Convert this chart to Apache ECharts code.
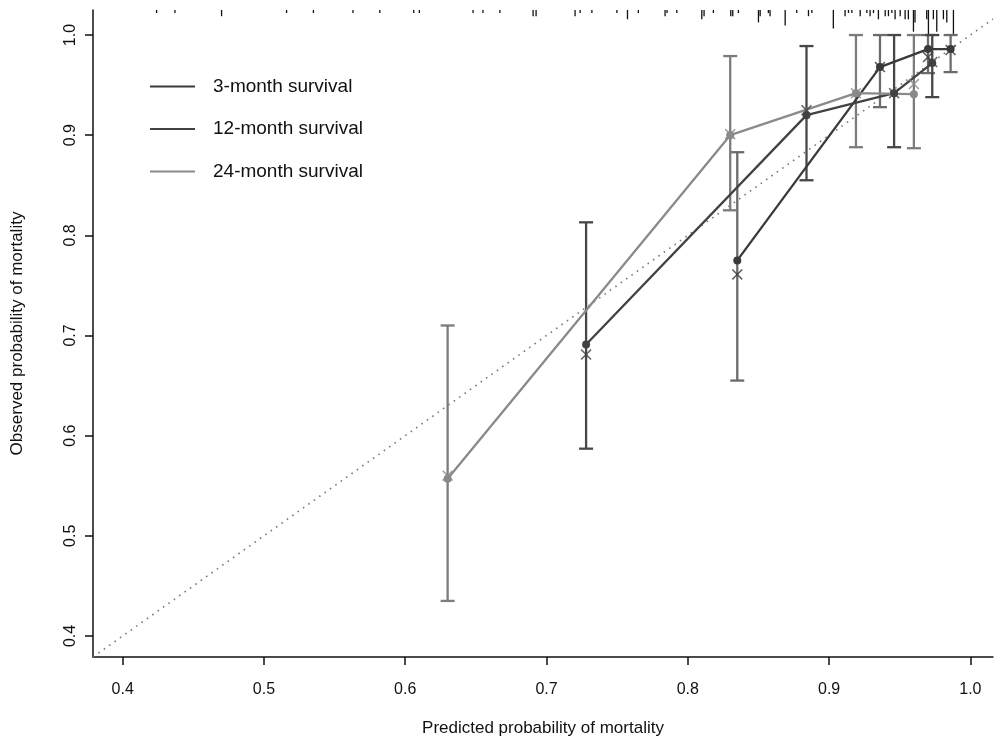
<!DOCTYPE html>
<html><head><meta charset="utf-8">
<script src="https://cdn.jsdelivr.net/npm/echarts@6/dist/echarts.min.js"></script>
<style>html,body{margin:0;padding:0;background:#fff}#c{width:995px;height:742px}</style>
</head><body><div id="c"></div>
<script>
// ---------- data ----------
const xTicks = [0.4, 0.5, 0.6, 0.7, 0.8, 0.9, 1.0];
const yTicks = [0.4, 0.5, 0.6, 0.7, 0.8, 0.9, 1.0];
const seriesNames = ['3-month survival', '12-month survival', '24-month survival'];

// 3-month survival
const pred3 = [0.835, 0.936, 0.970, 0.986];
const obs3  = [0.775, 0.968, 0.986, 0.986];
const corr3 = [0.761, 0.968, 0.978, 0.985];
const lo3   = [0.655, 0.928, 0.962, 0.963];
const hi3   = [0.883, 1.000, 1.000, 1.000];

// 12-month survival
const pred12 = [0.728, 0.884, 0.946, 0.973];
const obs12  = [0.691, 0.920, 0.942, 0.972];
const corr12 = [0.681, 0.925, 0.942, 0.973];
const lo12   = [0.587, 0.855, 0.888, 0.938];
const hi12   = [0.813, 0.989, 1.000, 1.000];

// 24-month survival
const pred24 = [0.630, 0.830, 0.919, 0.960];
const obs24  = [0.557, 0.900, 0.942, 0.941];
const corr24 = [0.560, 0.901, 0.942, 0.951];
const lo24   = [0.435, 0.825, 0.888, 0.887];
const hi24   = [0.710, 0.979, 1.000, 1.000];

// distribution of predicted values (spike histogram at top)
const rugX = [0.424,0.437,0.470,0.516,0.535,0.563,0.582,0.606,0.610,0.648,0.655,0.667,0.6905,0.6926,
  0.7202,0.7238,0.7321,0.7498,0.7573,0.7650,0.7839,0.7853,0.7922,0.8099,0.8115,0.8181,0.8304,0.8318,0.8358,
  0.8500,0.8512,0.8570,0.8582,0.8689,0.8771,0.8854,0.8878,0.9030,0.9113,0.9137,0.9161,0.9220,0.9267,0.9290,
  0.9314,0.9349,0.9397,0.9420,0.9444,0.9467,0.9503,0.9538,0.9561,0.9597,0.9608,0.9691,0.9703,0.9738,0.9762,
  0.9809,0.9833,0.9880];
const rugN = [1,1,2,1,1,1,1,1,1,1,1,1,2,2,
  2,1,1,1,3,1,2,1,1,3,2,1,2,2,1,
  4,2,1,2,5,1,2,1,6,2,1,1,2,1,2,
  1,3,2,2,1,3,2,3,3,7,4,3,8,3,7,
  3,4,8];

// ---------- chart ----------
const AX_MIN_X = 0.379, AX_MAX_X = 1.016, AX_MIN_Y = 0.379, AX_MAX_Y = 1.025;
const lineColors = ['#3a3a3a', '#424242', '#8a8a8a'];
const barColors  = ['#6c6c6c', '#474747', '#7c7c7c'];
const FONT = 'Liberation Sans, Arial, sans-serif';

const groups = [
  {pred: pred3, obs: obs3, corr: corr3, lo: lo3, hi: hi3},
  {pred: pred12, obs: obs12, corr: corr12, lo: lo12, hi: hi12},
  {pred: pred24, obs: obs24, corr: corr24, lo: lo24, hi: hi24}
];

function errRenderer(color) {
  return function (params, api) {
    const x = api.value(0), lo = api.value(1), hi = api.value(2);
    const a = api.coord([x, lo]), b = api.coord([x, hi]);
    const hw = 7;
    const style = {stroke: color, lineWidth: 2.3, fill: null};
    return {type: 'group', children: [
      {type: 'line', shape: {x1: a[0], y1: a[1], x2: b[0], y2: b[1]}, style: style},
      {type: 'line', shape: {x1: a[0] - hw, y1: a[1], x2: a[0] + hw, y2: a[1]}, style: style},
      {type: 'line', shape: {x1: b[0] - hw, y1: b[1], x2: b[0] + hw, y2: b[1]}, style: style}
    ]};
  };
}

const CROSS = 'path://M0,1L1,0L5,4L9,0L10,1L6,5L10,9L9,10L5,6L1,10L0,9L4,5Z';

const series = [];
// diagonal reference line
series.push({
  type: 'line', name: 'ideal', silent: true, symbol: 'none', z: 1,
  data: [[AX_MIN_X, AX_MIN_X], [AX_MAX_X, AX_MAX_X]],
  lineStyle: {color: '#7a7a7a', width: 1.6, type: [1.6, 5]}
});
// rug
series.push({
  type: 'custom', name: 'rug', silent: true, z: 2,
  data: rugX.map((v, i) => [v, rugN[i]]),
  renderItem: function (params, api) {
    const p = api.coord([api.value(0), AX_MAX_Y]);
    const len = api.value(1) * 3.1;
    return {type: 'line', shape: {x1: p[0], y1: p[1], x2: p[0], y2: p[1] + len},
      style: {stroke: '#111', lineWidth: 1.3}};
  }
});
groups.forEach((g, k) => {
  series.push({
    type: 'custom', name: 'err' + k, silent: true, z: 3,
    data: g.pred.map((v, i) => [v, g.lo[i], g.hi[i]]),
    renderItem: errRenderer(barColors[k])
  });
});
groups.forEach((g, k) => {
  series.push({
    type: 'line', name: seriesNames[k], z: 4,
    data: g.pred.map((v, i) => [v, g.obs[i]]),
    symbol: 'circle', symbolSize: 8, showSymbol: true,
    lineStyle: {color: lineColors[k], width: 2.3},
    itemStyle: {color: lineColors[k]}
  });
});
groups.forEach((g, k) => {
  series.push({
    type: 'scatter', name: 'corr' + k, z: 5,
    data: g.pred.map((v, i) => [v, g.corr[i]]),
    symbol: CROSS, symbolSize: 11,
    itemStyle: {color: lineColors[k]}
  });
});

const option = {
  animation: false,
  backgroundColor: '#fff',
  textStyle: {fontFamily: FONT},
  grid: {left: 93, right: 2, top: 10, bottom: 84, containLabel: false},
  legend: {
    orient: 'vertical', left: 145, top: 72,
    data: seriesNames.map(n => ({name: n, icon: 'rect'})),
    itemWidth: 45, itemHeight: 2, itemGap: 23.5,
    textStyle: {fontSize: 19, fontFamily: FONT, color: '#111', lineHeight: 19, padding: [0, 0, 0, 13]},
    selectedMode: false
  },
  xAxis: {
    type: 'value', min: AX_MIN_X, max: AX_MAX_X,
    name: 'Predicted probability of mortality', nameLocation: 'middle', nameGap: 63,
    nameTextStyle: {fontSize: 17, color: '#111', fontFamily: FONT},
    axisLine: {show: true, lineStyle: {color: '#111', width: 1.5}},
    axisTick: {show: true, length: 8, lineStyle: {color: '#111', width: 1.5}, customValues: xTicks},
    axisLabel: {fontSize: 16, color: '#111', margin: 25, customValues: xTicks,
      formatter: v => Number(v).toFixed(1)},
    splitLine: {show: false}
  },
  yAxis: {
    type: 'value', min: AX_MIN_Y, max: AX_MAX_Y,
    name: 'Observed probability of mortality', nameLocation: 'middle', nameGap: 67, nameRotate: 90,
    nameTextStyle: {fontSize: 17, color: '#111', fontFamily: FONT},
    axisLine: {show: true, lineStyle: {color: '#111', width: 1.5}},
    axisTick: {show: true, length: 8, lineStyle: {color: '#111', width: 1.5}, customValues: yTicks},
    axisLabel: {fontSize: 16, color: '#111', margin: 14, rotate: 90, customValues: yTicks,
      formatter: v => Number(v).toFixed(1)},
    splitLine: {show: false}
  },
  series: series
};

const chart = echarts.init(document.getElementById('c'), null, {renderer: 'canvas'});
chart.setOption(option);
</script>
</body></html>
